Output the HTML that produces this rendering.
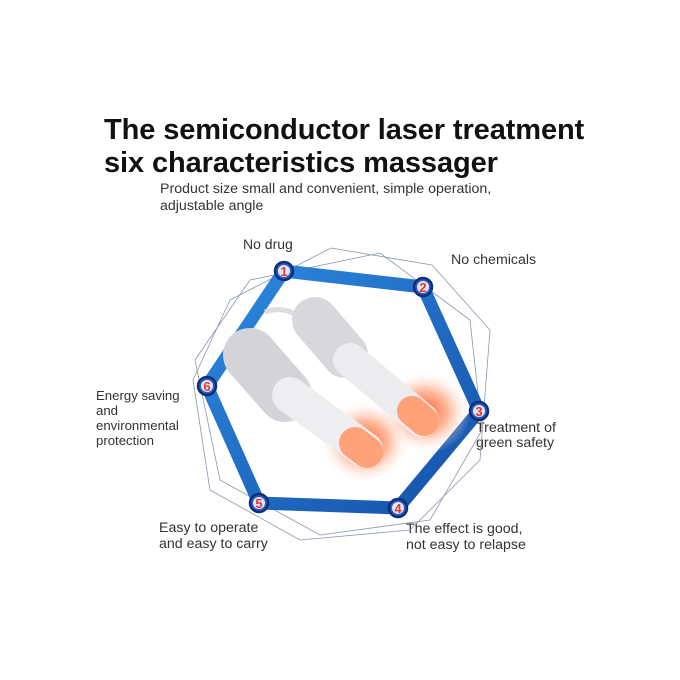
<!DOCTYPE html>
<html><head><style>
body{margin:0;width:680px;height:680px;background:#fff;overflow:hidden;position:relative;font-family:"Liberation Sans",Arial,sans-serif}
.t{position:absolute;color:#111;white-space:nowrap}
</style></head><body>
<div class="t" style="left:104px;top:114px;font-size:29px;font-weight:bold;line-height:33px;letter-spacing:-0.1px">The semiconductor laser treatment<br>six characteristics massager</div>
<div class="t" style="left:160px;top:181px;font-size:14.2px;line-height:17px;color:#333">Product size small and convenient, simple operation,<br>adjustable angle</div>
<div class="t" style="left:243px;top:236px;font-size:14px;color:#333">No drug</div>
<div class="t" style="left:451px;top:252px;font-size:14.2px;color:#333">No chemicals</div>
<div class="t" style="left:96px;top:388px;font-size:13.2px;line-height:15px;color:#333">Energy saving<br>and<br>environmental<br>protection</div>
<div class="t" style="left:476px;top:421px;font-size:14.2px;line-height:15px;color:#333">Treatment of<br>green safety</div>
<div class="t" style="left:159px;top:520px;font-size:14.2px;line-height:16px;color:#333">Easy to operate<br>and easy to carry</div>
<div class="t" style="left:406px;top:521px;font-size:14.2px;line-height:16px;color:#333">The effect is good,<br>not easy to relapse</div>
<svg width="680" height="680" style="position:absolute;left:0;top:0">
<defs>
<linearGradient id="b" x1="0" y1="0" x2="1" y2="1"><stop offset="0" stop-color="#2d8ae0"/><stop offset="1" stop-color="#1550a8"/></linearGradient>
<radialGradient id="g"><stop offset="0" stop-color="#ff5a2a"/><stop offset="0.5" stop-color="#ff9a70" stop-opacity=".7"/><stop offset="1" stop-color="#fff" stop-opacity="0"/></radialGradient>
</defs>
<g fill="none" stroke="#8a96b0" stroke-width="0.8">
<polygon points="331,248 432,265 490,330 480,460 410,530 300,540 210,490 193,380 230,300"/>
<polygon points="380,253 470,320 482,430 430,520 320,535 220,480 195,360 250,280"/>
</g>
<polygon points="284,271 423,287 479,411 398,508 259,503 207,386" fill="none" stroke="url(#b)" stroke-width="13" stroke-linejoin="round"/>
<path d="M265 312 Q285 305 300 318" stroke="#ddd" stroke-width="5" fill="none"/>
<ellipse cx="425" cy="412" rx="46" ry="42" fill="url(#g)"/>
<ellipse cx="365" cy="442" rx="46" ry="42" fill="url(#g)"/>
<g stroke-linecap="round">
<line x1="315" y1="320" x2="345" y2="355" stroke="#d8d8dc" stroke-width="46"/>
<line x1="350" y1="360" x2="422" y2="420" stroke="#ececef" stroke-width="34"/>
<line x1="412" y1="411" x2="424" y2="421" stroke="#ffa27a" stroke-width="30"/>
<line x1="250" y1="355" x2="285" y2="395" stroke="#d4d4d8" stroke-width="54"/>
<line x1="290" y1="395" x2="365" y2="450" stroke="#eeeef1" stroke-width="36"/>
<line x1="355" y1="443" x2="367" y2="452" stroke="#ffa27a" stroke-width="32"/>
</g>
<g font-family="Liberation Sans,Arial,sans-serif" font-size="13" font-weight="bold" fill="#e33" text-anchor="middle">
<g stroke="#0d2f7a" stroke-width="2.5" fill="#2b5cc0"><circle cx="284" cy="271" r="9"/><circle cx="423" cy="287" r="9"/><circle cx="479" cy="411" r="9"/><circle cx="398" cy="508" r="9"/><circle cx="259" cy="503" r="9"/><circle cx="207" cy="386" r="9"/></g>
<g fill="#fff" opacity=".85"><circle cx="284" cy="271" r="6"/><circle cx="423" cy="287" r="6"/><circle cx="479" cy="411" r="6"/><circle cx="398" cy="508" r="6"/><circle cx="259" cy="503" r="6"/><circle cx="207" cy="386" r="6"/></g>
<text x="284" y="276">1</text><text x="423" y="292">2</text><text x="479" y="416">3</text><text x="398" y="513">4</text><text x="259" y="508">5</text><text x="207" y="391">6</text>
</g>
</svg>
</body></html>
